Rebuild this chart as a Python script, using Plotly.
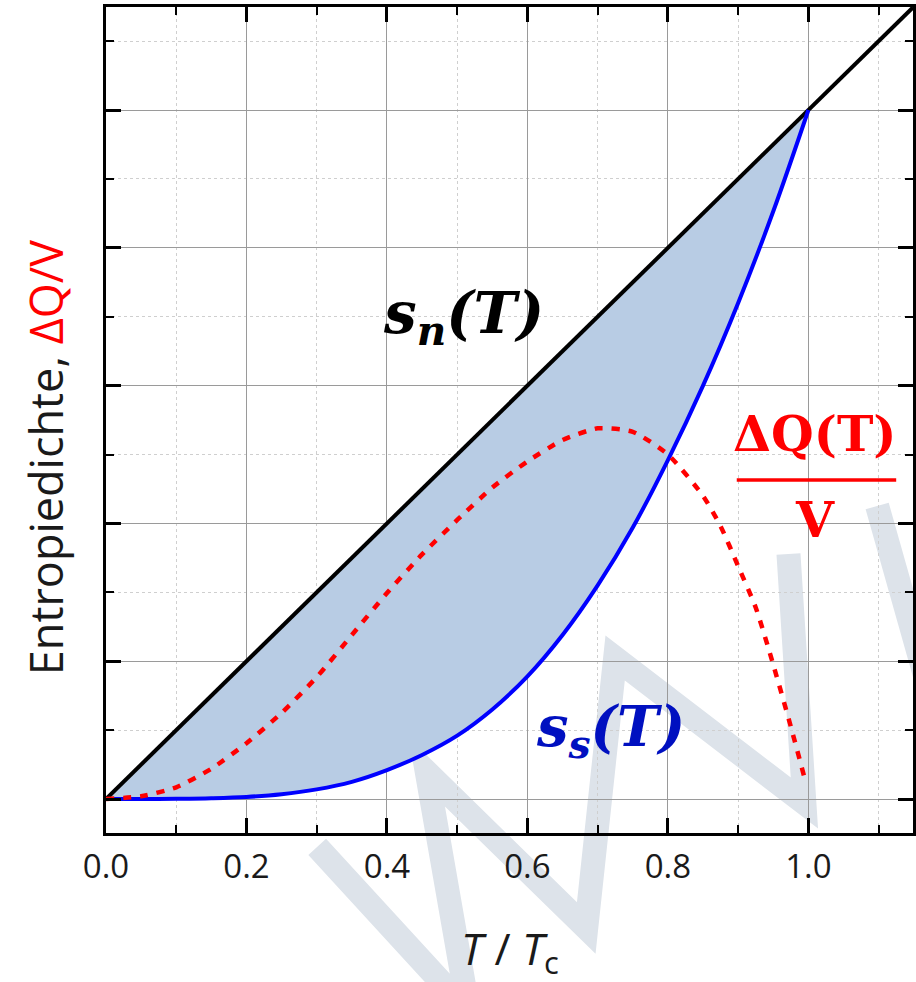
import plotly.graph_objects as go

# ---------------- data ----------------
sn_T = [0.0, 1.149]
sn_vals = [0.0, 1.149]

ss_T = [0.0, 0.05, 0.1, 0.15, 0.2, 0.25, 0.3, 0.35, 0.4, 0.45, 0.5, 0.55, 0.6, 0.65, 0.7, 0.75,
        0.8, 0.85, 0.9, 0.95, 1.0]
ss_vals = [0.0, 0.0, 0.0004, 0.0012, 0.003, 0.007, 0.014, 0.025, 0.042, 0.064, 0.092, 0.13, 0.178, 0.238, 0.31, 0.394,
           0.492, 0.6, 0.72, 0.853, 1.0]

dq_T = [0.0, 0.05, 0.1, 0.15, 0.2, 0.25, 0.3, 0.35, 0.4, 0.45, 0.5, 0.55, 0.6, 0.65, 0.7, 0.75,
        0.8, 0.85, 0.875, 0.9, 0.925, 0.95, 0.975, 0.996]
dq_vals = [0.0, 0.004, 0.017, 0.044, 0.081, 0.125, 0.177, 0.238, 0.299, 0.355, 0.405, 0.452, 0.49, 0.521, 0.538, 0.533,
           0.50, 0.44, 0.396, 0.338, 0.278, 0.195, 0.105, 0.025]

x_ticks = [0.0, 0.2, 0.4, 0.6, 0.8, 1.0]
x_ticklabels = ["0.0", "0.2", "0.4", "0.6", "0.8", "1.0"]

# ---------------- figure ----------------
W, H = 916, 982
ml, mr, mt, mb = 106, 0, 7, 149
pw, ph = W - ml - mr, H - mt - mb

fig = go.Figure()

# shaded region between s_n (= T) and s_s
fill_x = ss_T + ss_T[::-1]
fill_y = ss_vals + ss_T[::-1]
fig.add_trace(go.Scatter(x=fill_x, y=fill_y, fill="toself", fillcolor="#b8cce4",
                         line=dict(width=0), mode="lines",
                         hoverinfo="skip", showlegend=False))

fig.add_trace(go.Scatter(x=sn_T, y=sn_vals, mode="lines",
                         line=dict(color="black", width=4), showlegend=False))
fig.add_trace(go.Scatter(x=ss_T, y=ss_vals, mode="lines",
                         line=dict(color="#0000ff", width=4, shape="spline", smoothing=1.0),
                         showlegend=False))
fig.add_trace(go.Scatter(x=dq_T, y=dq_vals, mode="lines",
                         line=dict(color="#ff0000", width=4.5, dash="8px,9px", shape="spline", smoothing=0.6),
                         showlegend=False))

# watermark (decoration) in pixel -> paper coordinates
def px2paper(px, py):
    return (px - ml) / pw, (H - mb - py) / ph

wm_main = [(318, 847), (470, 1012), (428, 772), (588, 928), (617, 658), (807, 803), (791, 554)]
wm_right = [(880, 506), (935, 700)]
for pts in (wm_main, wm_right):
    path = ""
    for i, (px, py) in enumerate(pts):
        u, v = px2paper(px, py)
        path += ("M" if i == 0 else "L") + f"{u:.4f},{v:.4f} "
    fig.add_shape(type="path", path=path, xref="paper", yref="paper",
                  line=dict(color="#dde3ea", width=24), layer="below")

axis_common = dict(
    showline=True, linecolor="black", linewidth=3, mirror="allticks",
    ticks="inside", ticklen=15, tickwidth=2.5, tickcolor="black",
    showgrid=True, gridcolor="#9a9a9a", gridwidth=1.2, zeroline=False,
    minor=dict(dtick=0.1, ticks="inside", ticklen=8, tickwidth=2, tickcolor="black",
               showgrid=True, gridcolor="#cfcfcf", griddash="dot", gridwidth=1),
)

fig.update_xaxes(range=[0, pw / 705.0], tickvals=x_ticks, ticktext=x_ticklabels,
                 tickfont=dict(family="Open Sans", size=33, color="#1a1a1a"),
                 ticklabelstandoff=2, **axis_common)
fig.update_yaxes(range=[-0.0493, 1.1495], dtick=0.2, tick0=0,
                 showticklabels=False, **axis_common)

# axis titles as annotations
fig.add_annotation(xref="paper", yref="paper", x=(511 - ml) / pw, y=(H - mb - 950) / ph,
                   text="<i>T</i> / <i>T</i><sub>c</sub>", showarrow=False,
                   font=dict(family="Open Sans", size=44, color="#1a1a1a"),
                   xanchor="center", yanchor="middle")
fig.add_annotation(xref="paper", yref="paper", x=(45 - ml) / pw, y=(H - mb - 457) / ph,
                   text="Entropiedichte, <span style='color:#ff0000'>ΔQ/V</span>",
                   textangle=-90, showarrow=False,
                   font=dict(family="Open Sans", size=45, color="#1a1a1a"),
                   xanchor="center", yanchor="middle")

# curve labels
fig.add_annotation(x=0.509, y=0.70, text="<b><i>s<sub>n</sub>(T)</i></b>", showarrow=False,
                   font=dict(family="DejaVu Serif", size=58, color="black"),
                   xanchor="center", yanchor="middle")
fig.add_annotation(x=0.718, y=0.10, text="<b><i>s<sub>s</sub>(T)</i></b>", showarrow=False,
                   font=dict(family="DejaVu Serif", size=56, color="#0010c0"),
                   xanchor="center", yanchor="middle")
fig.add_annotation(x=1.010, y=0.53, text="<b>ΔQ(T)</b>", showarrow=False,
                   font=dict(family="DejaVu Serif", size=49, color="#ff0000"),
                   xanchor="center", yanchor="middle")
fig.add_annotation(x=1.010, y=0.405, text="<b>V</b>", showarrow=False,
                   font=dict(family="DejaVu Serif", size=49, color="#ff0000"),
                   xanchor="center", yanchor="middle")
fig.add_shape(type="line", x0=0.898, x1=1.125, y0=0.463, y1=0.463,
              line=dict(color="#ff0000", width=3.5))

fig.update_layout(width=W, height=H, margin=dict(l=ml, r=mr, t=mt, b=mb),
                  paper_bgcolor="white", plot_bgcolor="white", showlegend=False)

fig.write_html("out.html")
